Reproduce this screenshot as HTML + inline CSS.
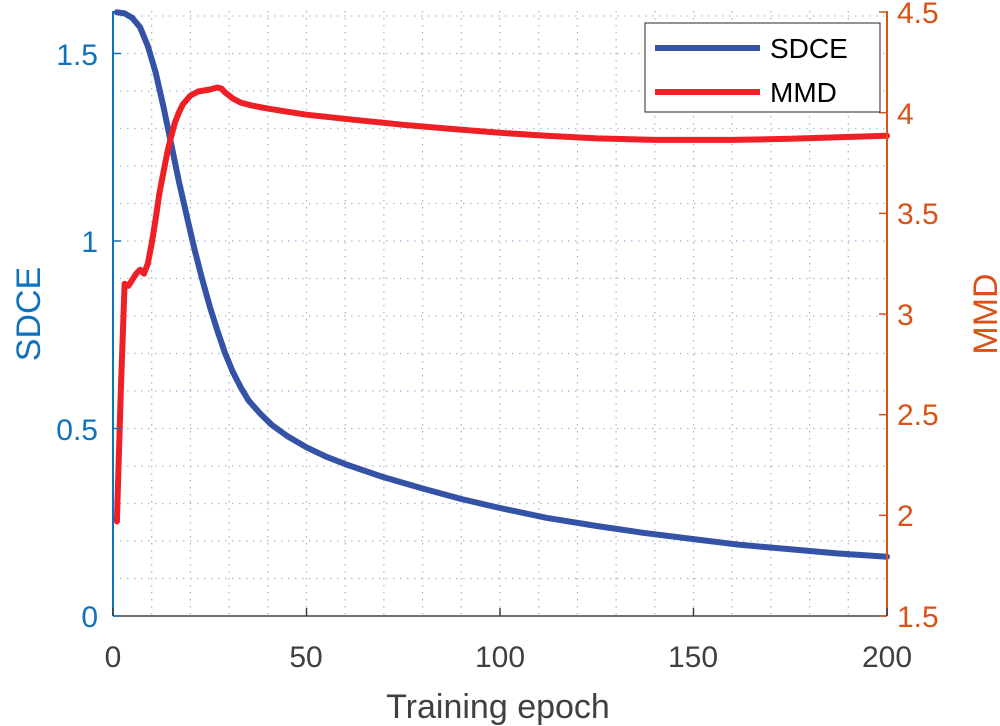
<!DOCTYPE html>
<html><head><meta charset="utf-8"><style>
body{margin:0;background:#fff;}
svg{display:block;font-family:"Liberation Sans",Arial,sans-serif;}
</style></head><body>
<svg id="s" width="1000" height="726" viewBox="0 0 1000 726" xmlns="http://www.w3.org/2000/svg">
<g id="grid"></g>
<path id="blue" fill="none" stroke="#3452a6" stroke-width="6" stroke-linejoin="round" stroke-linecap="round"/>
<path id="red" fill="none" stroke="#ee2026" stroke-width="6" stroke-linejoin="round" stroke-linecap="round"/>
<line x1="113" y1="616" x2="887" y2="616" stroke="#404040" stroke-width="1.5"/>
<line x1="113" y1="11" x2="113" y2="616" stroke="#0f72bd" stroke-width="2"/>
<line x1="887" y1="11" x2="887" y2="616" stroke="#d95319" stroke-width="2"/>
<g id="ticks"></g>
<g font-size="30" fill="#0f72bd" text-anchor="end">
<text x="98" y="627">0</text><text x="98" y="440">0.5</text><text x="98" y="252">1</text><text x="98" y="65">1.5</text>
</g>
<g font-size="30" fill="#d95319" text-anchor="start">
<text x="897" y="627">1.5</text><text x="897" y="526">2</text><text x="897" y="425">2.5</text><text x="897" y="325">3</text><text x="897" y="224">3.5</text><text x="897" y="124">4</text><text x="897" y="23">4.5</text>
</g>
<g font-size="30" fill="#404040" text-anchor="middle">
<text x="113" y="667">0</text><text x="306" y="667">50</text><text x="500" y="667">100</text><text x="693" y="667">150</text><text x="887" y="667">200</text>
</g>
<text x="498" y="718" font-size="34" fill="#404040" text-anchor="middle">Training epoch</text>
<text transform="translate(40,314) rotate(-90)" font-size="34" fill="#0f72bd" text-anchor="middle">SDCE</text>
<text transform="translate(997,314) rotate(-90)" font-size="34" fill="#d95319" text-anchor="middle">MMD</text>
<rect x="645" y="23" width="235" height="89" fill="#fff" stroke="#262626" stroke-width="1"/>
<line x1="655" y1="48" x2="760" y2="48" stroke="#3452a6" stroke-width="6"/>
<line x1="655" y1="92" x2="760" y2="92" stroke="#ee2026" stroke-width="6"/>
<text x="770" y="58" font-size="28" fill="#000">SDCE</text>
<text x="770" y="102" font-size="28" fill="#000">MMD</text>
</svg>
<script>
var X=function(e){return 113+e*3.87},YL=function(v){return 616-v*375},YR=function(v){return 616-(v-1.5)*201.33};
var g='';
for(var k=1;k<20;k++){var x=X(k*10);g+='<line x1="'+x+'" y1="11" x2="'+x+'" y2="616" stroke="#b0b0b0" stroke-width="1.2" stroke-dasharray="1.5 5.5"/>';}
for(var k=1;k<=16;k++){var y=YL(k*0.1);g+='<line x1="113" y1="'+y+'" x2="887" y2="'+y+'" stroke="#a8b8e0" stroke-width="1.2" stroke-dasharray="1.5 5.5"/>';}
document.getElementById('grid').innerHTML=g;
var t='';
[0,0.5,1,1.5].forEach(function(v){var y=YL(v);t+='<line x1="113" y1="'+y+'" x2="121" y2="'+y+'" stroke="#0f72bd" stroke-width="1.5"/>';});
[1.5,2,2.5,3,3.5,4,4.5].forEach(function(v){var y=YR(v);t+='<line x1="879" y1="'+y+'" x2="887" y2="'+y+'" stroke="#d95319" stroke-width="1.5"/>';});
[0,50,100,150,200].forEach(function(e){var x=X(e);t+='<line x1="'+x+'" y1="608" x2="'+x+'" y2="616" stroke="#404040" stroke-width="1.5"/>';});
document.getElementById('ticks').innerHTML=t;
var b=[[1,1.61],[3,1.607],[5,1.595],[7,1.57],[9,1.52],[11,1.45],[13,1.36],[15,1.26],[17,1.16],[19,1.07],[21,0.98],[23,0.9],[25,0.825],[27,0.76],[29,0.7],[31,0.65],[33,0.61],[35,0.575],[38,0.54],[41,0.51],[45,0.48],[50,0.45],[55,0.425],[60,0.405],[70,0.37],[80,0.34],[90,0.312],[100,0.288],[112,0.262],[125,0.24],[137,0.222],[150,0.205],[162,0.19],[175,0.178],[187,0.167],[200,0.158]];
var r=[[1,1.97],[2,2.6],[3,3.15],[4,3.14],[5,3.17],[6,3.2],[7,3.22],[8,3.2],[9,3.25],[10,3.35],[11,3.47],[12,3.6],[13,3.7],[14,3.8],[15,3.88],[16,3.95],[17,4.0],[18,4.04],[20,4.085],[22,4.105],[25,4.115],[27,4.125],[28,4.12],[29,4.1],[31,4.07],[33,4.05],[36,4.035],[40,4.02],[45,4.005],[50,3.99],[62,3.965],[75,3.94],[87,3.92],[100,3.9],[112,3.885],[125,3.872],[140,3.865],[160,3.865],[175,3.87],[200,3.885]];
function p(a,f){return a.map(function(q,i){return (i?'L':'M')+X(q[0]).toFixed(1)+','+f(q[1]).toFixed(1)}).join('');}
document.getElementById('blue').setAttribute('d',p(b,YL));
document.getElementById('red').setAttribute('d',p(r,YR));
</script>
</body></html>
